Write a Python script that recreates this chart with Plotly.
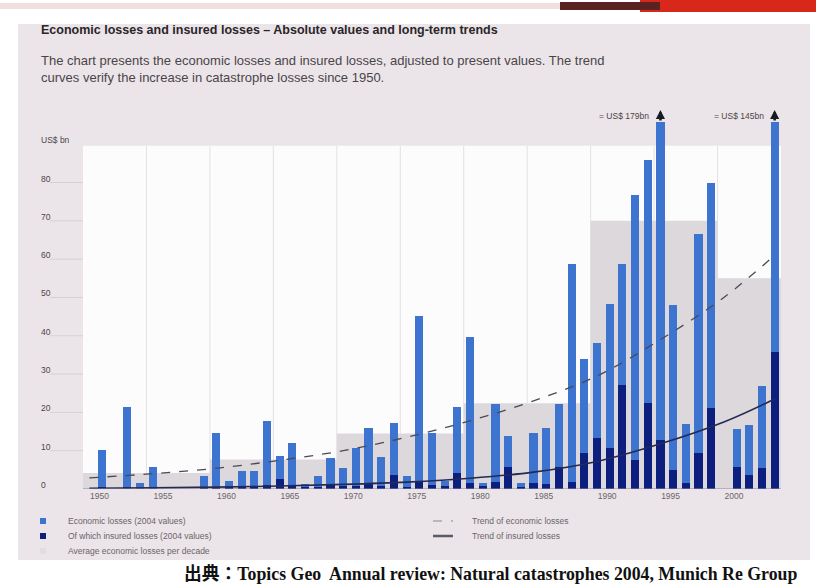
import plotly.graph_objects as go

# ---- data (US$ bn, 2004 values) ----
years = [1951, 1953, 1954, 1955, 1959, 1960, 1961, 1962, 1963, 1964, 1965, 1966,
         1967, 1968, 1969, 1970, 1971, 1972, 1973, 1974, 1975, 1976, 1977, 1978,
         1979, 1980, 1981, 1982, 1983, 1984, 1985, 1986, 1987, 1988, 1989, 1990,
         1991, 1992, 1993, 1994, 1995, 1996, 1997, 1998, 1999, 2001, 2002, 2003,
         2004]
economic = [10.2, 21.4, 1.5, 5.7, 3.4, 14.6, 2.1, 4.7, 4.7, 17.8, 8.6, 12.0,
            1.3, 3.4, 8.1, 5.5, 10.7, 16.0, 8.4, 17.2, 3.4, 45.2, 14.6, 2.1,
            21.4, 39.7, 1.5, 22.2, 13.8, 1.6, 14.6, 15.9, 22.2, 58.7, 33.9, 38.1,
            48.3, 58.7, 76.8, 86.0, 179.0, 48.0, 17.0, 66.6, 80.0, 15.7, 16.7, 27.0,
            145.0]
insured = [0.4, 0.5, 0.2, 0.6, 0.3, 0.5, 0.3, 0.6, 0.5, 1.0, 2.5, 0.8,
           0.4, 0.3, 1.0, 0.8, 0.9, 1.5, 0.7, 3.6, 0.5, 1.8, 1.0, 0.8,
           4.2, 1.5, 0.8, 1.8, 5.7, 0.6, 1.6, 1.2, 5.7, 1.8, 9.3, 13.3,
           10.7, 27.2, 7.6, 22.5, 12.8, 5.0, 1.5, 9.4, 21.2, 5.7, 3.7, 5.5,
           35.8]

decade_start = [1950, 1960, 1970, 1980, 1990, 2000]
decade_end = [1959, 1969, 1979, 1989, 1999, 2004]
decade_avg = [4.2, 7.7, 14.5, 22.4, 70.0, 55.0]

trend_years = [1950, 1955, 1960, 1965, 1970, 1975, 1980, 1985, 1990, 1995, 2000, 2004]
trend_economic = [2.9, 4.0, 5.4, 7.5, 10.0, 13.5, 17.8, 23.0, 29.5, 39.0, 50.0, 61.0]
trend_insured = [0.2, 0.3, 0.5, 0.8, 1.2, 1.8, 2.8, 4.4, 7.2, 11.8, 17.5, 23.5]

x_tick_years = [1950, 1955, 1960, 1965, 1970, 1975, 1980, 1985, 1990, 1995, 2000]
y_tick_vals = [0, 10, 20, 30, 40, 50, 60, 70, 80, 90]
y_tick_text = ["0", "10", "20", "30", "40", "50", "60", "70", "80", "US$ bn"]
grid_vals = [10, 20, 30, 40, 50, 60, 70, 80]

off_scale = [(1995, "= US$ 179bn"), (2004, "= US$ 145bn")]

# ---- styling ----
PANEL = "#ebe5e9"
WHITE_TOP = 89.6
Y_MAX = 95.8
X_MIN, X_MAX = 1949.5, 2004.5
BLUE = "#3d74cf"
NAVY = "#0c1f7e"
BOX = "#dcd8dc"
GRID = "#d6d0d5"
TXT = "#4a4548"

# plot area in pixels (for placing page furniture)
L, R, T, B = 83, 35, 122, 95
W, H = 816, 584
PW, PH = W - L - R, H - T - B


def px(x):
    return (x - L) / PW


def py(y):
    return (H - B - y) / PH


fig = go.Figure()

fig.add_trace(go.Bar(x=years, y=economic, marker_color=BLUE, width=0.64,
                     marker_line_width=0, name="Economic losses"))
fig.add_trace(go.Bar(x=years, y=insured, marker_color=NAVY, width=0.64,
                     marker_line_width=0, name="Insured losses"))
fig.add_trace(go.Scatter(x=trend_years, y=trend_economic, mode="lines",
                         line=dict(color="#4a4a55", width=1.3, dash="dash", shape="spline"),
                         name="Trend of economic losses"))
fig.add_trace(go.Scatter(x=trend_years, y=trend_insured, mode="lines",
                         line=dict(color="#252a55", width=1.6, shape="spline"),
                         name="Trend of insured losses"))

shapes = []
# page panel and top strip
shapes.append(dict(type="rect", xref="paper", yref="paper", x0=px(18), x1=px(810),
                   y0=py(560), y1=py(24), fillcolor=PANEL, line_width=0, layer="below"))
shapes.append(dict(type="rect", xref="paper", yref="paper", x0=px(0), x1=px(816),
                   y0=py(9), y1=py(3), fillcolor="#f2dede", line_width=0, layer="below"))
shapes.append(dict(type="rect", xref="paper", yref="paper", x0=px(640), x1=px(816),
                   y0=py(12), y1=py(0), fillcolor="#d8281c", line_width=0, layer="below"))
shapes.append(dict(type="rect", xref="paper", yref="paper", x0=px(560), x1=px(660),
                   y0=py(10), y1=py(2), fillcolor="#5a2220", line_width=0, layer="below"))
# white chart field
shapes.append(dict(type="rect", xref="x", yref="y", x0=X_MIN, x1=X_MAX, y0=0, y1=WHITE_TOP,
                   fillcolor="#fcfcfd", line_width=0, layer="below"))
# grid
for g in grid_vals:
    shapes.append(dict(type="line", xref="paper", yref="y", x0=px(50), x1=1, y0=g, y1=g,
                       line=dict(color=GRID, width=1), layer="below"))
for yr in x_tick_years[1:]:
    shapes.append(dict(type="line", xref="x", yref="y", x0=yr - 0.5, x1=yr - 0.5,
                       y0=0, y1=WHITE_TOP, line=dict(color="#e4e0e3", width=1), layer="below"))
# decade averages
for s, e, v in zip(decade_start, decade_end, decade_avg):
    shapes.append(dict(type="rect", xref="x", yref="y", x0=s - 0.5, x1=e + 0.5, y0=0, y1=v,
                       fillcolor=BOX, line_width=0, layer="below"))
# baseline
shapes.append(dict(type="line", xref="x", yref="y", x0=X_MIN, x1=X_MAX, y0=0, y1=0,
                   line=dict(color="#8a8a9a", width=1)))

annotations = []
# y tick labels (left aligned)
for v, t in zip(y_tick_vals, y_tick_text):
    annotations.append(dict(xref="paper", yref="y", x=px(39), y=v, text=t, showarrow=False,
                            xanchor="left", yanchor="middle", yshift=4,
                            font=dict(size=8.5, color=TXT)))
# off-scale markers: arrow above the clipped bar and the true value
for yr, label in off_scale:
    annotations.append(dict(x=yr, y=py(110), xref="x", yref="paper", ax=0, ay=12,
                            showarrow=True, arrowhead=2, arrowsize=0.7, arrowwidth=2.6,
                            arrowcolor="#1a1a22", text=""))
    annotations.append(dict(x=yr, y=py(116), xref="x", yref="paper", text=label,
                            showarrow=False, xanchor="right", yanchor="middle", xshift=-9,
                            font=dict(size=8.5, color=TXT)))

# titles
annotations.append(dict(xref="paper", yref="paper", x=px(39), y=py(30), xanchor="left",
                        yanchor="middle", showarrow=False,
                        text="<b>Economic losses and insured losses – Absolute values and long-term trends</b>",
                        font=dict(size=12.5, color="#2a2528")))
annotations.append(dict(xref="paper", yref="paper", x=px(39), y=py(69), xanchor="left",
                        yanchor="middle", showarrow=False, align="left",
                        text="The chart presents the economic losses and insured losses, adjusted to present values. The trend"
                             "<br>curves verify the increase in catastrophe losses since 1950.",
                        font=dict(size=13, color="#4a4448")))

# legend
legend_left = [(BLUE, "Economic losses (2004 values)", 521),
               (NAVY, "Of which insured losses (2004 values)", 536),
               ("#e0dce2", "Average economic losses per decade", 551)]
for col, txt, yy in legend_left:
    shapes.append(dict(type="rect", xref="paper", yref="paper", x0=px(40), x1=px(46),
                       y0=py(yy + 3), y1=py(yy - 3), fillcolor=col, line_width=0))
    annotations.append(dict(xref="paper", yref="paper", x=px(66), y=py(yy), text=txt,
                            xanchor="left", yanchor="middle", showarrow=False,
                            font=dict(size=8.5, color="#6a6468")))
legend_right = [("dash", 1.2, "#8c8890", "Trend of economic losses", 521),
                ("solid", 2.5, "#5a5a6a", "Trend of insured losses", 536)]
for dash, w, col, txt, yy in legend_right:
    shapes.append(dict(type="line", xref="paper", yref="paper", x0=px(433), x1=px(453),
                       y0=py(yy), y1=py(yy), line=dict(color=col, width=w, dash=dash)))
    annotations.append(dict(xref="paper", yref="paper", x=px(470), y=py(yy), text=txt,
                            xanchor="left", yanchor="middle", showarrow=False,
                            font=dict(size=8.5, color="#6a6468")))

# source line
annotations.append(dict(xref="paper", yref="paper", x=px(182), y=py(573), xanchor="left",
                        yanchor="middle", showarrow=False,
                        text="<b>出典：Topics Geo  Annual review: Natural catastrophes 2004, Munich Re Group</b>",
                        font=dict(size=17.8, color="#111111",
                                  family="Liberation Serif, Noto Sans CJK JP, serif")))

fig.update_layout(
    width=W, height=H, autosize=False,
    margin=dict(l=L, r=R, t=T, b=B, pad=0),
    paper_bgcolor="#ffffff", plot_bgcolor="rgba(0,0,0,0)",
    barmode="overlay", bargap=0, showlegend=False,
    font=dict(family="Liberation Sans, Arial, sans-serif", color=TXT),
    shapes=shapes, annotations=annotations,
    xaxis=dict(range=[X_MIN, X_MAX], showgrid=False, zeroline=False, showline=False,
               tickmode="array", tickvals=[y + 0.8 for y in x_tick_years],
               ticktext=[str(y) for y in x_tick_years], ticks="",
               tickfont=dict(size=8.5, color="#6a6468")),
    yaxis=dict(range=[0, Y_MAX], showgrid=False, zeroline=False, showline=False,
               showticklabels=False, ticks=""),
)

fig.write_html("out.html")
